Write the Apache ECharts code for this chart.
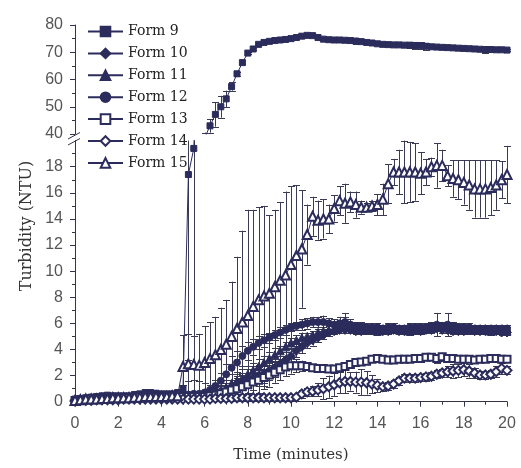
<!DOCTYPE html>
<html>
<head>
<meta charset="utf-8">
<script src="https://cdn.jsdelivr.net/npm/echarts@6/dist/echarts.min.js"></script>
<style>
  html, body { margin: 0; padding: 0; background: #fff; }
  #chart { width: 521px; height: 468px; }
</style>
</head>
<body>
<div id="chart"></div>
<script>
// Sampling times (minutes)
const time = [0,0.25,0.5,0.75,1,1.25,1.5,1.75,2,2.25,2.5,2.75,3,3.25,3.5,3.75,4,4.25,4.5,4.75,
  5,5.25,5.5,5.75,6,6.25,6.5,6.75,7,7.25,7.5,7.75,8,8.25,8.5,8.75,9,9.25,9.5,9.75,
  10,10.25,10.5,10.75,11,11.25,11.5,11.75,12,12.25,12.5,12.75,13,13.25,13.5,13.75,
  14,14.25,14.5,14.75,15,15.25,15.5,15.75,16,16.25,16.5,16.75,17,17.25,17.5,17.75,
  18,18.25,18.5,18.75,19,19.25,19.5,19.75,20];

// Turbidity (NTU) per formulation, one value per sampling time
const form9 = [0.2,0.25,0.3,0.35, 0.4,0.45,0.5,0.45, 0.45,0.45,0.45,0.55, 0.6,0.7,0.7,0.65, 0.6,0.6,0.6,0.7,
  1.0,17.4,19.4,30, 38.5,43.0,47.2,50.0, 52.9,57.4,62.1,66.2, 69.7,71.2,72.9,73.6, 74.0,74.3,74.5,74.7,
  75.0,75.4,75.9,76.2, 76.1,75.4,74.8,74.6, 74.5,74.5,74.4,74.3, 74.1,73.9,73.6,73.4, 73.1,72.9,72.8,72.7,
  72.7,72.6,72.6,72.5, 72.4,72.2,72.0,71.9, 71.8,71.7,71.6,71.5, 71.4,71.3,71.2,71.1, 71.0,71.0,70.9,70.9, 70.8];
const form9Err = [0,0,0,0, 0,0,0,0, 0,0,0,0, 0,0,0,0, 0,0,0,0,
  0.3,14.2,16.5,0, 2.0,2.5,4.5,4.0, 3.0,1.5,0.8,0.5, 0.4,0.3,0.3,0.3, 0.3,0.3,0.3,0.3,
  0.3,0.3,0.3,0.3, 0.3,0.3,0.3,0.3, 0.3,0.3,0.3,0.3, 1.2,0.3,0.3,0.3, 0.3,0.3,0.3,0.3,
  0.3,0.3,1.2,1.2, 1.2,1.2,0.3,0.3, 0.3,0.3,0.3,0.3, 0.3,0.3,0.3,0.3, 1.2,0.3,0.3,0.3, 0.3];

const form10 = [0.15,0.2,0.2,0.25, 0.3,0.3,0.35,0.35, 0.3,0.3,0.35,0.4, 0.45,0.5,0.5,0.5, 0.45,0.45,0.5,0.5,
  0.5,0.45,0.45,0.45, 0.5,0.55,0.6,0.7, 0.8,1.0,1.2,1.4, 1.6,1.8,2.0,2.2, 2.4,2.6,2.9,3.2,
  3.5,3.9,4.2,4.5, 4.7,4.9,5.1,5.3, 5.4,5.5,5.5,5.5, 5.4,5.4,5.5,5.5, 5.5,5.4,5.4,5.5,
  5.4,5.4,5.5,5.5, 5.4,5.5,5.5,5.6, 5.5,5.5,5.4,5.4, 5.4,5.5,5.4,5.4, 5.4,5.4,5.4,5.3, 5.3];
const form10Err = [0,0,0,0, 0,0,0,0, 0,0,0,0, 0,0,0,0, 0,0,0,0,
  0,0,0,0, 0,0,0.4,0.5, 0.6,0.7,0.8,0.8, 0.9,0.9,0.8,0.8, 0.7,0.7,0.6,0.6,
  0.5,0.5,0.5,0.4, 0.4,0.3,0.3,0.3, 0.2,0.2,0.2,0.2, 0.2,0.2,0.2,0.2, 0.2,0.2,0.2,0.2,
  0.2,0.2,0.2,0.2, 0.2,0.2,0.2,0.2, 0.2,0.2,0.2,0.2, 0.2,0.2,0.2,0.2, 0.2,0.2,0.2,0.2, 0.2];

const form11 = [0.1,0.15,0.2,0.2, 0.25,0.3,0.3,0.3, 0.3,0.35,0.35,0.4, 0.4,0.45,0.45,0.45, 0.45,0.5,0.5,0.5,
  0.5,0.5,0.5,0.5, 0.55,0.6,0.7,0.9, 1.1,1.4,1.6,1.8, 2.1,2.4,2.7,3.0, 3.3,3.6,3.9,4.2,
  4.5,4.7,4.9,5.0, 5.1,5.3,5.4,5.5, 5.6,5.8,5.9,5.8, 5.6,5.5,5.5,5.5, 5.4,5.5,5.5,5.6,
  5.5,5.5,5.4,5.5, 5.5,5.6,5.6,5.7, 5.8,5.7,5.6,5.5, 5.5,5.5,5.5,5.5, 5.5,5.4,5.5,5.5, 5.4];
const form11Err = [0,0,0,0, 0,0,0,0, 0,0,0,0, 0,0,0,0, 0,0,0,0,
  0,0,0,0, 0,0,0,0, 0.6,0.7,0.7,0.7, 0.6,0.6,0.6,0.5, 0.5,0.5,0.4,0.4,
  0.4,0.4,0.4,0.3, 0.3,0.3,0.3,0.3, 0.3,0.3,0.6,0.3, 0.3,0.3,0.3,0.3, 0.3,0.3,0.3,0.3,
  0.3,0.3,0.3,0.3, 0.3,0.3,0.3,0.3, 0.3,0.3,0.3,0.3, 0.3,0.3,0.3,0.3, 0.3,0.3,0.3,0.3, 0.3];

const form12 = [0.15,0.2,0.25,0.3, 0.3,0.35,0.4,0.4, 0.35,0.35,0.4,0.45, 0.5,0.55,0.55,0.5, 0.5,0.5,0.55,0.55,
  0.55,0.55,0.6,0.6, 0.7,0.9,1.2,1.6, 2.1,2.6,3.0,3.5, 3.9,4.2,4.5,4.7, 4.9,5.1,5.3,5.5,
  5.7,5.8,5.9,6.0, 6.1,6.1,6.1,6.0, 5.9,6.0,6.1,5.9, 5.8,5.8,5.7,5.7, 5.7,5.6,5.7,5.7,
  5.6,5.6,5.7,5.7, 5.7,5.7,5.8,5.9, 5.8,5.9,5.8,5.7, 5.7,5.7,5.6,5.6, 5.6,5.6,5.6,5.6, 5.6];
const form12Err = [0,0,0,0, 0,0,0,0, 0,0,0,0, 0,0,0,0, 0,0,0,0,
  0,0,0,0, 0,0,0.5,0.6, 0.8,0.9,0.9,0.8, 0.7,0.6,0.5,0.5, 0.4,0.4,0.4,0.4,
  0.3,0.3,0.4,0.4, 0.4,0.4,0.5,0.4, 0.4,0.5,0.7,0.4, 0.3,0.3,0.3,0.3, 0.3,0.3,0.3,0.3,
  0.3,0.3,0.3,0.3, 0.3,0.3,0.3,0.9, 0.3,0.9,0.3,0.3, 0.3,0.3,0.3,0.3, 0.3,0.3,0.3,0.3, 0.3];

const form13 = [0.1,0.15,0.15,0.2, 0.2,0.25,0.25,0.25, 0.25,0.3,0.3,0.3, 0.35,0.35,0.35,0.35, 0.35,0.35,0.4,0.4,
  0.4,0.4,0.4,0.4, 0.4,0.45,0.5,0.6, 0.75,0.9,1.0,1.15, 1.3,1.5,1.65,1.85, 2.05,2.25,2.45,2.65,
  2.75,2.75,2.75,2.7, 2.6,2.55,2.55,2.5, 2.5,2.6,2.7,2.85, 3.0,3.05,3.1,3.25, 3.3,3.25,3.2,3.2,
  3.25,3.25,3.25,3.3, 3.3,3.4,3.4,3.3, 3.45,3.3,3.3,3.25, 3.25,3.25,3.2,3.25, 3.25,3.3,3.3,3.25, 3.25];
const form13Err = [0,0,0,0, 0,0,0,0, 0,0,0,0, 0,0,0,0, 0,0,0,0,
  0,1.2,1.3,1.2, 1.0,0.8,0.7,0.7, 0.7,0.8,0.8,0.9, 0.9,0.9,1.0,0.9, 0.9,0.8,0.8,0.7,
  0.6,0.5,0.4,0.3, 0.2,0.2,0.2,0.2, 0.2,0.2,0.2,0.2, 0.2,0.2,0.2,0.2, 0.2,0.2,0.2,0.2,
  0.2,0.2,0.2,0.2, 0.2,0.2,0.2,0.3, 0.3,0.2,0.2,0.2, 0.2,0.2,0.2,0.2, 0.2,0.2,0.2,0.2, 0.2];

const form14 = [0.05,0.1,0.1,0.1, 0.15,0.15,0.15,0.15, 0.15,0.2,0.2,0.2, 0.2,0.2,0.2,0.2, 0.2,0.2,0.2,0.2,
  0.2,0.2,0.2,0.2, 0.2,0.2,0.25,0.25, 0.25,0.25,0.3,0.3, 0.3,0.3,0.3,0.3, 0.3,0.3,0.3,0.3,
  0.3,0.35,0.6,0.75, 0.8,0.9,1.0,1.15, 1.3,1.45,1.55,1.55, 1.5,1.5,1.45,1.35, 1.25,1.15,1.2,1.35,
  1.6,1.8,1.8,1.8, 1.85,1.9,1.95,2.1, 2.2,2.3,2.35,2.4, 2.45,2.35,2.2,2.05, 2.05,2.1,2.3,2.55, 2.4];
const form14Err = [0,0,0,0, 0,0,0,0, 0,0,0,0, 0,0,0,0, 0,0,0,0,
  0,0,0,0, 0,0,0,0, 0,0,0,0, 0,0,0,0, 0,0,0,0,
  0,0,0.3,0.3, 0.4,0.5,0.8,0.85, 0.9,0.8,0.9,0.7, 0.8,1.0,0.9,0.7, 0.5,0.3,0.3,0.3,
  0.3,0.3,0.3,0.3, 0.3,0.3,0.3,0.3, 0.3,0.4,0.5,0.5, 0.5,0.5,0.4,0.3, 0.3,0.3,0.4,0.4, 0.3];

const form15 = [0.1,0.15,0.2,0.2, 0.2,0.25,0.25,0.3, 0.3,0.3,0.3,0.35, 0.35,0.4,0.4,0.4, 0.4,0.4,0.45,0.45,
  2.7,2.9,2.85,2.8, 3.0,3.3,3.6,4.0, 4.4,5.0,5.6,6.1, 6.6,7.3,7.8,8.1, 8.3,8.8,9.3,9.7,
  10.5,11.2,11.7,12.8, 14.2,13.9,14.0,14.0, 14.8,15.4,15.2,15.3, 15.1,14.9,14.9,15.0, 15.1,15.5,16.7,17.6,
  17.6,17.6,17.6,17.6, 17.5,17.6,18.0,18.1, 18.1,17.3,17.1,17.0, 16.8,16.6,16.3,16.3, 16.3,16.4,16.6,17.0, 17.4];
const form15Err = [0,0,0,0, 0,0,0,0, 0,0,0,0, 0,0,0,0, 0,0,0,0,
  2.4,2.3,2.2,2.4, 2.8,2.8,2.9,3.2, 3.4,4.2,5.5,7.0, 8.1,7.4,7.1,6.9, 6.0,5.9,6.0,6.4,
  6.0,5.4,4.5,2.3, 1.5,1.5,1.5,1.1, 1.0,1.1,1.5,0.8, 1.0,0.5,0.3,0.4, 0.8,1.2,1.5,1.0,
  1.7,2.4,2.3,2.2, 1.6,1.0,0.7,1.7, 1.2,0.8,1.4,1.5, 1.7,1.9,2.2,2.2, 2.2,2.1,1.9,1.4, 2.2];

// Axis tick values
const xTicks = [0,2,4,6,8,10,12,14,16,18,20];
const yLowerTicks = [0,2,4,6,8,10,12,14,16,18];
const yUpperTicks = [40,50,60,70,80];

const NAVY = '#2b2c5c';
const AXIS = '#33334a';
const LABEL = '#555';

const forms = [
  { name: 'Form 9',  vals: form9,  errs: form9Err,  symbol: 'rect',          size: 6 },
  { name: 'Form 10', vals: form10, errs: form10Err, symbol: 'diamond',       size: 9 },
  { name: 'Form 11', vals: form11, errs: form11Err, symbol: 'triangle',      size: 8 },
  { name: 'Form 12', vals: form12, errs: form12Err, symbol: 'circle',        size: 7 },
  { name: 'Form 13', vals: form13, errs: form13Err, symbol: 'emptyRect',     size: 7 },
  { name: 'Form 14', vals: form14, errs: form14Err, symbol: 'emptyDiamond',  size: 9 },
  { name: 'Form 15', vals: form15, errs: form15Err, symbol: 'emptyTriangle', size: 9 }
];

const LOWER = [0, 20];
const UPPER = [40, 80];

function points(vals, keep) {
  return time.map((t, i) => (keep && !keep(vals[i])) ? [t, null] : [t, vals[i]]);
}

function errorPoints(vals, errs) {
  return time.map((t, i) => [t, vals[i] - errs[i], vals[i] + errs[i], errs[i]])
             .filter(d => d[3] > 0);
}

// Vertical error bars with caps, cut off at the axis range of their panel
function errorBarRenderer(range) {
  return function (params, api) {
    let lo = api.value(1), hi = api.value(2);
    const capLo = lo >= range[0], capHi = hi <= range[1];
    lo = Math.max(lo, range[0]);
    hi = Math.min(hi, range[1]);
    if (hi <= lo) return null;
    const pLo = api.coord([api.value(0), lo]);
    const pHi = api.coord([api.value(0), hi]);
    const x = Math.round(pLo[0]) + 0.5;
    const w = 3.5;
    const style = { stroke: '#3a3a55', lineWidth: 1 };
    const kids = [{ type: 'line', shape: { x1: x, y1: pLo[1], x2: x, y2: pHi[1] }, style }];
    if (capHi) kids.push({ type: 'line', shape: { x1: x - w, y1: Math.round(pHi[1]) + 0.5, x2: x + w, y2: Math.round(pHi[1]) + 0.5 }, style });
    if (capLo) kids.push({ type: 'line', shape: { x1: x - w, y1: Math.round(pLo[1]) + 0.5, x2: x + w, y2: Math.round(pLo[1]) + 0.5 }, style });
    return { type: 'group', children: kids };
  };
}

function lineSeries(f, grid, data) {
  return {
    type: 'line', name: f.name, xAxisIndex: grid, yAxisIndex: grid,
    data: data, symbol: f.symbol, symbolSize: f.size, showSymbol: true,
    connectNulls: false, clip: true, z: 3,
    lineStyle: { color: NAVY, width: 1 },
    itemStyle: { color: NAVY, borderColor: NAVY, borderWidth: 1 },
    emphasis: { disabled: true }, silent: true
  };
}

function errorSeries(f, grid, range) {
  return {
    type: 'custom', name: f.name + ' SD', xAxisIndex: grid, yAxisIndex: grid,
    data: errorPoints(f.vals, f.errs), renderItem: errorBarRenderer(range),
    encode: { x: 0, y: [1, 2] }, z: 2, silent: true
  };
}

const series = [];
forms.forEach(f => series.push(errorSeries(f, 0, LOWER)));
series.push(errorSeries(forms[0], 1, UPPER));
forms.forEach(f => series.push(lineSeries(f, 0, points(f.vals))));
series.push(lineSeries(forms[0], 1, points(form9, v => v > 10)));

const tickFont = { fontFamily: 'Liberation Sans', fontSize: 16, color: LABEL };

const option = {
  animation: false,
  backgroundColor: '#fff',
  grid: [
    { left: 75, top: 140.6, width: 432, height: 261.1 },
    { left: 75, top: 25, width: 432, height: 109 }
  ],
  xAxis: [
    {
      type: 'value', gridIndex: 0, min: 0, max: 20, interval: 2,
      axisLine: { lineStyle: { color: AXIS, width: 1 } },
      axisTick: { inside: false, length: 5, lineStyle: { color: AXIS }, customValues: xTicks },
      minorTick: { show: true, splitNumber: 2, length: 3, lineStyle: { color: AXIS } },
      axisLabel: Object.assign({ margin: 14, customValues: xTicks }, tickFont),
      splitLine: { show: false },
      name: 'Time (minutes)', nameLocation: 'middle', nameGap: 46,
      nameTextStyle: { fontFamily: 'DejaVu Serif', fontSize: 15, color: '#333' }
    },
    { type: 'value', gridIndex: 1, min: 0, max: 20, show: false }
  ],
  yAxis: [
    {
      type: 'value', gridIndex: 0, min: 0, max: 20, interval: 2,
      axisLine: { show: true, lineStyle: { color: AXIS, width: 1 } },
      axisTick: { show: true, inside: false, length: 5, lineStyle: { color: AXIS }, customValues: yLowerTicks },
      minorTick: { show: true, splitNumber: 2, length: 3, lineStyle: { color: AXIS } },
      axisLabel: Object.assign({ margin: 12, customValues: yLowerTicks }, tickFont),
      splitLine: { show: false }
    },
    {
      type: 'value', gridIndex: 1, min: 40, max: 80, interval: 10,
      axisLine: { show: true, lineStyle: { color: AXIS, width: 1 } },
      axisTick: { show: true, inside: false, length: 5, lineStyle: { color: AXIS }, customValues: yUpperTicks },
      minorTick: { show: true, splitNumber: 2, length: 3, lineStyle: { color: AXIS } },
      axisLabel: Object.assign({ margin: 12, customValues: yUpperTicks }, tickFont),
      splitLine: { show: false }
    }
  ],
  legend: {
    data: forms.map(f => f.name),
    orient: 'vertical', left: 82, top: 19.5,
    itemWidth: 35, itemHeight: 12, itemGap: 7.9,
    selectedMode: false,
    textStyle: { fontFamily: 'DejaVu Serif', fontSize: 14, color: '#222', lineHeight: 12 }
  },
  graphic: [
    // axis break marks between the two panels
    { type: 'line', shape: { x1: 68, y1: 139, x2: 80, y2: 132.5 }, style: { stroke: AXIS, lineWidth: 1 }, silent: true },
    { type: 'line', shape: { x1: 68, y1: 145, x2: 80, y2: 138.5 }, style: { stroke: AXIS, lineWidth: 1 }, silent: true },
    {
      type: 'text', x: 27, y: 226, rotation: Math.PI / 2, silent: true,
      style: { text: 'Turbidity (NTU)', font: '16px "DejaVu Serif"', fill: '#333', align: 'center', verticalAlign: 'middle' }
    }
  ],
  series: series
};

const chart = echarts.init(document.getElementById('chart'), null, { renderer: 'canvas' });
chart.setOption(option);
</script>
</body>
</html>
